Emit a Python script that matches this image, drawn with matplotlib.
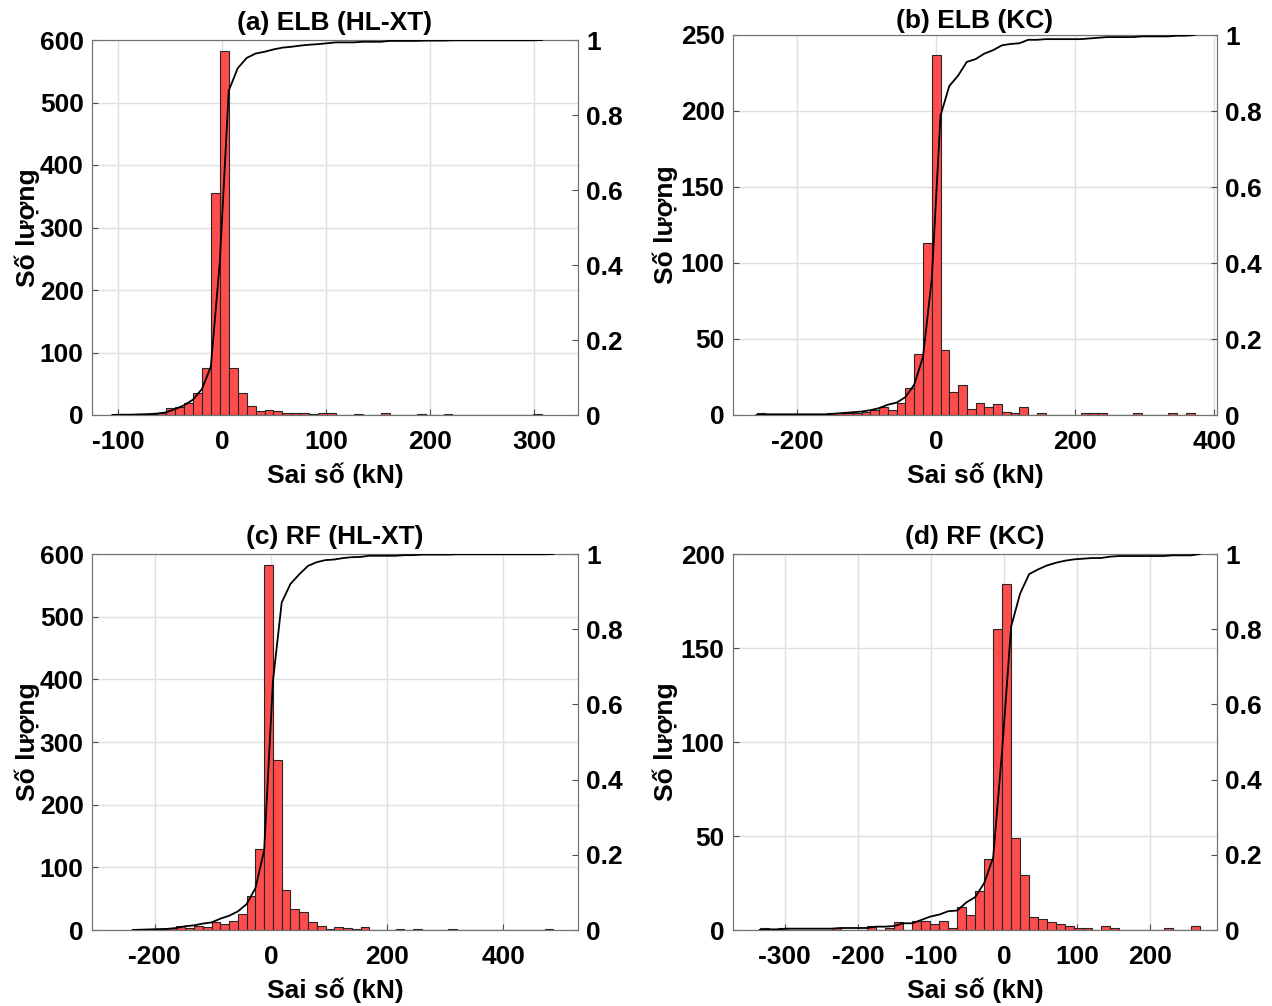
import numpy as np
import matplotlib
matplotlib.use('Agg')
import matplotlib.pyplot as plt

plt.rcParams['font.family'] = ['Liberation Sans', 'DejaVu Sans']
plt.rcParams['font.weight'] = 'bold'
plt.rcParams['axes.unicode_minus'] = False

# histogram data: first bin edge, bin width, counts
titles = ['(a) ELB (HL-XT)', '(b) ELB (KC)', '(c) RF (HL-XT)', '(d) RF (KC)']

start_a, width_a = -105.4, 8.6
counts_a = [1, 0, 1, 1, 2, 4, 11, 13, 19, 36, 76, 355, 583, 76, 35, 15, 6, 8, 6, 3,
            4, 3, 2, 3, 3, 0, 0, 2, 0, 0, 3, 0, 0, 0, 1, 0, 0, 1, 0, 0,
            0, 0, 0, 0, 0, 0, 0, 1]

start_b, width_b = -258.2, 12.6
counts_b = [1, 0, 0, 0, 0, 0, 0, 0, 1, 1, 1, 1, 2, 3, 5, 3, 8, 18, 40, 113,
            237, 43, 15, 20, 4, 8, 5, 7, 2, 1, 5, 0, 1, 0, 0, 0, 0, 1, 1, 1,
            0, 0, 0, 1, 0, 0, 0, 1, 0, 1]

start_c, width_c = -238.0, 15.1
counts_c = [1, 1, 1, 1, 3, 6, 3, 6, 4, 13, 10, 15, 25, 55, 130, 582, 271, 64, 33, 29,
            13, 7, 2, 5, 3, 1, 4, 0, 0, 0, 2, 0, 2, 0, 0, 0, 1, 0, 0, 0,
            0, 0, 0, 0, 0, 0, 0, 1]

start_d, width_d = -334.4, 12.3
counts_d = [1, 0, 1, 0, 0, 0, 0, 0, 1, 0, 0, 0, 2, 0, 1, 4, 0, 5, 5, 3,
            5, 1, 12, 8, 21, 38, 160, 184, 49, 29, 7, 6, 4, 3, 2, 1, 1, 0, 2, 1,
            0, 0, 0, 0, 0, 1, 0, 0, 2]

xlims = [(-125, 342), (-292, 404), (-308, 529), (-371, 292)]
xticks = [[-100, 0, 100, 200, 300], [-200, 0, 200, 400],
          [-200, 0, 200, 400], [-300, -200, -100, 0, 100, 200]]
ylims = [600, 250, 600, 200]
yticks = [np.arange(0, 601, 100), np.arange(0, 251, 50),
          np.arange(0, 601, 100), np.arange(0, 201, 50)]

# axes boxes in pixels: left, top, right, bottom
boxes = [(92, 40, 578, 415), (733, 35, 1217, 415),
         (92, 554, 578, 930), (733, 554, 1217, 930)]

W, H = 1272, 1006
fig = plt.figure(figsize=(W / 100, H / 100), dpi=100)

data = [(start_a, width_a, counts_a), (start_b, width_b, counts_b),
        (start_c, width_c, counts_c), (start_d, width_d, counts_d)]

fs = 19
for i in range(4):
    l, t, r, b = boxes[i]
    ax = fig.add_axes([l / W, 1 - b / H, (r - l) / W, (b - t) / H])
    start, w, counts = data[i]
    counts = np.array(counts, dtype=float)
    edges = start + w * np.arange(len(counts) + 1)

    ax.bar(edges[:-1], counts, width=w, align='edge', color=(1, 0.3, 0.3),
           edgecolor='0.15', linewidth=0.8, zorder=2)
    ax.set_xlim(*xlims[i])
    ax.set_ylim(0, ylims[i])
    ax.set_xticks(xticks[i])
    ax.set_yticks(yticks[i])
    ax.grid(True, color='0.88', linewidth=1.0, zorder=0)
    ax.set_axisbelow(True)
    ax.tick_params(direction='in', labelsize=fs, length=4, color='0.3')
    ax.tick_params(axis='x', pad=11)
    ax.tick_params(axis='y', pad=6)
    for lab in ax.get_xticklabels() + ax.get_yticklabels():
        lab.set_fontweight('bold')
    for s in ax.spines.values():
        s.set_color('0.45')
    ax.set_title(titles[i], fontsize=fs, fontweight='bold', pad=7 if i != 1 else 5)
    ax.set_xlabel('Sai số (kN)', fontsize=fs, fontweight='bold', labelpad=6)
    ax.set_ylabel('Số lượng', fontsize=fs, fontweight='bold', labelpad=0 if i % 2 == 0 else 2)

    # cumulative distribution on the right axis
    ax2 = ax.twinx()
    cdf = np.concatenate([[0], np.cumsum(counts) / counts.sum()])
    ax2.plot(edges, cdf, color='black', linewidth=1.3, zorder=3)
    ax2.set_ylim(0, 1)
    ax2.set_yticks([0, 0.2, 0.4, 0.6, 0.8, 1])
    ax2.set_yticklabels(['0', '0.2', '0.4', '0.6', '0.8', '1'])
    ax2.tick_params(direction='in', labelsize=fs, length=4, color='0.3', pad=6)
    for lab in ax2.get_yticklabels():
        lab.set_fontweight('bold')
    for s in ax2.spines.values():
        s.set_color('0.45')

fig.savefig('out.png', dpi=100)
